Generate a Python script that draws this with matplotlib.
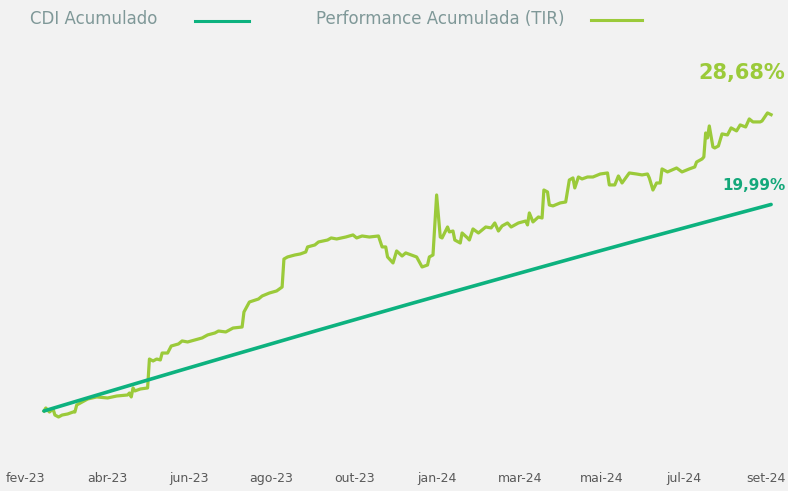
import numpy as np
import matplotlib
matplotlib.use("Agg")
import matplotlib.pyplot as plt
from matplotlib.lines import Line2D

# trading-day index of each reading
perf_days = [0, 1, 2, 3, 5, 6, 8, 10, 13, 16, 17, 18, 20, 24, 29, 35, 40, 46, 47, 48,
             49, 50, 53, 57, 58, 60, 62, 64, 65, 68, 70, 74, 76, 79, 83, 87, 90, 94, 96, 100,
             102, 104, 109, 110, 113, 118, 120, 124, 128, 131, 132, 134, 138, 141, 144, 145, 149, 151, 156, 158,
             161, 166, 170, 172, 175, 179, 184, 186, 188, 189, 192, 194, 197, 199, 202, 205, 208, 211, 212, 214,
             216, 218, 219, 222, 223, 225, 226, 229, 230, 233, 234, 236, 239, 243, 246, 248, 250, 252, 255, 257,
             261, 265, 266, 267, 269, 272, 274, 275, 277, 278, 280, 284, 287, 289, 291, 292, 294, 296, 299, 302,
             306, 310, 311, 314, 316, 318, 322, 326, 329, 332, 333, 335, 337, 339, 340, 343, 348, 351, 355, 358,
             359, 362, 363, 364, 365, 366, 368, 369, 371, 373, 376, 378, 381, 383, 386, 388, 390, 394, 395, 398,
             400]
# performance acumulada (TIR), %
perf = [0.00, 0.29, 0.10, -0.10, 0.19, -0.39, -0.58, -0.39, -0.29, -0.10, -0.10, 0.58, 0.77, 1.16, 1.36, 1.26, 1.45, 1.55, 1.74, 1.36,
        2.23, 1.94, 2.13, 2.23, 5.03, 4.84, 5.03, 4.94, 5.61, 5.61, 6.29, 6.49, 6.78, 6.68, 6.87, 7.07, 7.36, 7.55, 7.74, 7.65,
        7.84, 8.03, 8.13, 9.58, 10.55, 10.84, 11.13, 11.42, 11.62, 12.00, 14.71, 14.91, 15.10, 15.20, 15.39, 15.88, 16.07, 16.36, 16.55, 16.75,
        16.65, 16.84, 17.04, 16.75, 16.94, 16.84, 16.94, 15.88, 15.88, 14.91, 14.33, 15.49, 15.00, 15.30, 15.10, 14.91, 13.94, 14.13, 14.91, 15.10,
        20.91, 16.84, 16.75, 17.81, 17.33, 17.42, 16.55, 16.26, 17.23, 16.75, 16.55, 17.62, 17.23, 17.81, 17.72, 18.20, 17.42, 17.91, 18.20, 17.81,
        18.20, 18.39, 18.01, 19.17, 18.30, 18.78, 18.68, 21.39, 21.20, 19.94, 19.85, 20.14, 20.23, 22.36, 22.56, 21.59, 22.65, 22.46, 22.65, 22.65,
        22.94, 23.04, 21.88, 21.88, 22.75, 22.07, 23.04, 22.94, 22.85, 22.94, 22.56, 21.39, 22.07, 22.07, 23.43, 23.14, 23.52, 23.14, 23.43, 23.62,
        24.10, 24.39, 24.59, 26.91, 26.43, 27.59, 25.56, 25.46, 25.65, 26.82, 26.72, 27.40, 27.11, 27.69, 27.49, 28.27, 27.98, 27.98, 28.07, 28.85,
        28.68]

cdi_days = [0, 25, 50, 75, 100, 125, 150, 175, 200, 225, 250, 275, 300, 325, 350, 375, 400]
# CDI acumulado, %
cdi = [0.00, 1.32, 2.63, 3.93, 5.22, 6.50, 7.78, 9.04, 10.30, 11.54, 12.77, 14.00, 15.22, 16.43, 17.62, 18.81, 19.99]

tick_pos = [-10, 35, 80, 125, 171, 216, 262, 307, 352, 397]
tick_labels = ["fev-23", "abr-23", "jun-23", "ago-23", "out-23",
               "jan-24", "mar-24", "mai-24", "jul-24", "set-24"]

bg = "#f2f2f2"
c_perf = "#9bca3a"
c_cdi = "#0db27f"
c_legend = "#7f9898"

fig = plt.figure(figsize=(7.88, 4.91), dpi=100, facecolor=bg)
ax = fig.add_axes([0, 36 / 491, 1, 415 / 491], facecolor=bg)

ax.plot(perf_days, perf, color=c_perf, lw=2.3, solid_joinstyle="round")
ax.plot(cdi_days, cdi, color=c_cdi, lw=2.6, solid_capstyle="round")

ax.set_xlim(-24.2, 409.3)
ax.set_ylim(-4.26, 35.91)
ax.set_yticks([])
ax.set_xticks(tick_pos)
ax.set_xticklabels(tick_labels)
ax.tick_params(axis="x", length=0, pad=12, labelsize=9, labelcolor="#595959")
for s in ax.spines.values():
    s.set_visible(False)

ax.annotate(f"{perf[-1]:.2f}".replace(".", ",") + "%", (perf_days[-1], perf[-1]),
            xytext=(-21, 30), textcoords="offset points", ha="center", va="center",
            color=c_perf, fontsize=15, fontweight="bold")
ax.annotate(f"{cdi[-1]:.2f}".replace(".", ",") + "%", (cdi_days[-1], cdi[-1]),
            xytext=(10.5, 14), textcoords="offset points", ha="right", va="center",
            color="#14a87a", fontsize=11, fontweight="bold")

# legend drawn by hand across the top
fig.text(30 / 788, 1 - 19 / 491, "CDI Acumulado", fontsize=12, color=c_legend, va="center")
fig.add_artist(Line2D([195 / 788, 249 / 788], [1 - 21 / 491] * 2, color=c_cdi, lw=2.2,
                      transform=fig.transFigure))
fig.text(316 / 788, 1 - 19 / 491, "Performance Acumulada (TIR)", fontsize=12, color=c_legend, va="center")
fig.add_artist(Line2D([591 / 788, 642 / 788], [1 - 20 / 491] * 2, color=c_perf, lw=2.2,
                      transform=fig.transFigure))

fig.savefig("out.png", dpi=100, facecolor=bg)
